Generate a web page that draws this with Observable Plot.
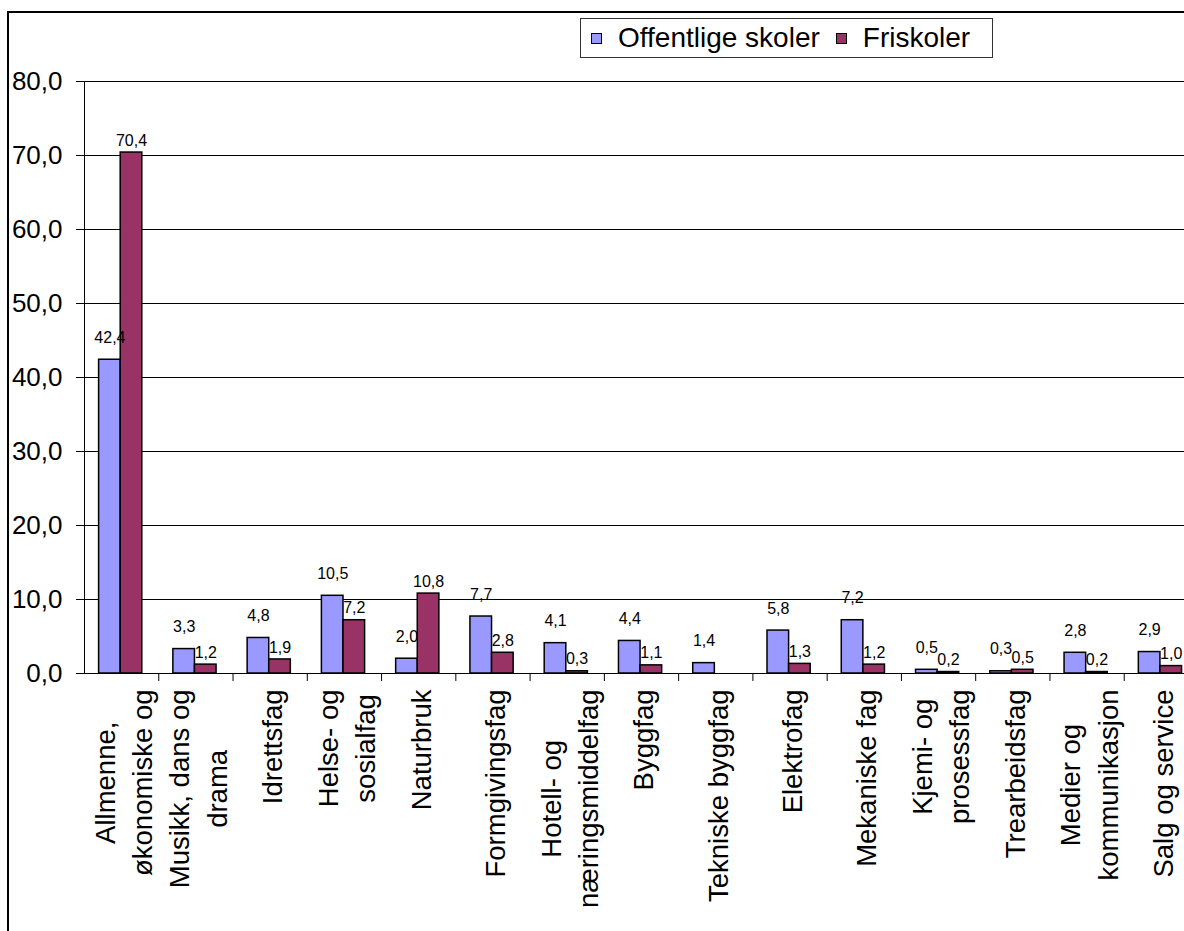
<!DOCTYPE html>
<html>
<head>
<meta charset="utf-8">
<script src="https://cdn.jsdelivr.net/npm/d3@7"></script>
<script src="https://cdn.jsdelivr.net/npm/@observablehq/plot@0.6"></script>
<style>
  html, body { margin: 0; padding: 0; background: #fff; overflow: hidden; }
  #wrap { position: relative; width: 1184px; height: 931px; overflow: hidden; background: #fff;
          font-family: "Liberation Sans", Arial, sans-serif; }
  #chart { position: absolute; left: 0; top: 0; }
  #frame { position: absolute; left: 7px; top: 11px; width: 1400px; height: 1400px;
           border: 2px solid #000; box-sizing: border-box; pointer-events: none; }
  #legend { position: absolute; left: 580px; top: 18px; width: 413px; height: 40px;
            border: 1px solid #333; box-sizing: border-box; background: #fff;
            display: flex; align-items: center; padding-left: 10px;
            font-size: 28px; color: #000; }
  #legend .sw { width: 9px; height: 9px; border: 1px solid #000; display: inline-block; margin-right: 16px; }
  #legend .item { display: flex; align-items: center; margin-right: 16px; white-space: nowrap; }
</style>
</head>
<body>
<div id="wrap">
  <div id="chart"></div>
  <div id="legend"></div>
  <div id="frame"></div>
</div>
<script>
// ---- data ----
const categories = [
  "Allmenne,\nøkonomiske og",
  "Musikk, dans og\ndrama",
  "Idrettsfag",
  "Helse- og\nsosialfag",
  "Naturbruk",
  "Formgivingsfag",
  "Hotell- og\nnæringsmiddelfag",
  "Byggfag",
  "Tekniske byggfag",
  "Elektrofag",
  "Mekaniske fag",
  "Kjemi- og\nprosessfag",
  "Trearbeidsfag",
  "Medier og\nkommunikasjon",
  "Salg og service"
];
const offentlige = [42.4, 3.3, 4.8, 10.5, 2.0, 7.7, 4.1, 4.4, 1.4, 5.8, 7.2, 0.5, 0.3, 2.8, 2.9];
const friskoler  = [70.4, 1.2, 1.9, 7.2, 10.8, 2.8, 0.3, 1.1, null, 1.3, 1.2, 0.2, 0.5, 0.2, 1.0];
const seriesNames = ["Offentlige skoler", "Friskoler"];
const seriesColors = ["#9999FF", "#993366"];
const yTicks = [0, 10, 20, 30, 40, 50, 60, 70, 80];

// ---- layout ----
const W = 1184, H = 931;
const mL = 84, mR = -14, mT = 81, mB = 258;
const bandW = (W - mL - mR) / categories.length;
const barW = 21.6;
const blueL = 14.6;
const redL = blueL + barW;
const blueDx = blueL + barW / 2 - bandW / 2;
const redDx = redL + barW / 2 - bandW / 2;
const fmt = d => d.toFixed(1).replace(".", ",");
const font = "'Liberation Sans', Arial, sans-serif";

const rowsA = categories.map((c, i) => ({category: c, value: offentlige[i]})).filter(d => d.value != null);
const rowsB = categories.map((c, i) => ({category: c, value: friskoler[i]})).filter(d => d.value != null);

const plot = Plot.plot({
  width: W, height: H,
  marginLeft: mL, marginRight: mR, marginTop: mT, marginBottom: mB,
  style: {fontFamily: font, background: "transparent", color: "#000"},
  x: {type: "band", domain: categories, padding: 0, round: false, axis: null},
  y: {domain: [0, 80], axis: null, label: null},
  marks: [
    Plot.gridY(yTicks, {stroke: "#000", strokeOpacity: 1, strokeWidth: 1}),
    Plot.frame({stroke: "#000", strokeWidth: 1}),
    Plot.axisY(yTicks, {tickSize: 8, tickPadding: 14, fontSize: 26, tickFormat: fmt, label: null, stroke: "#000"}),
    Plot.ruleX(categories.slice(1), {x: d => d, dx: -bandW / 2, y1: 0, y2: 0, insetBottom: -8, stroke: "#000"}),
    Plot.barY(rowsA, {x: "category", y: "value", fill: seriesColors[0], stroke: "#000", strokeWidth: 1.5,
      insetLeft: blueL, insetRight: bandW - blueL - barW}),
    Plot.barY(rowsB, {x: "category", y: "value", fill: seriesColors[1], stroke: "#000", strokeWidth: 1.5,
      insetLeft: redL, insetRight: bandW - redL - barW}),
    Plot.ruleY([0], {stroke: "#000", strokeWidth: 1}),
    Plot.text(rowsA, {x: "category", y: "value", text: d => fmt(d.value), dx: blueDx, dy: -22,
      fontSize: 16, fill: "#000", lineAnchor: "middle"}),
    Plot.text(rowsB, {x: "category", y: "value", text: d => fmt(d.value), dx: redDx, dy: -12,
      fontSize: 16, fill: "#000", lineAnchor: "middle"}),
    Plot.text(categories, {x: d => d, frameAnchor: "bottom", text: d => d, rotate: -90,
      textAnchor: "end", lineAnchor: "middle", dy: 16, fontSize: 27.5, lineHeight: 1.36, fill: "#000"})
  ]
});
document.getElementById("chart").appendChild(plot);

// center the lines of multi-line category labels relative to each other (as in the original)
plot.querySelectorAll("text").forEach(t => {
  const spans = Array.from(t.querySelectorAll("tspan"));
  if (spans.length > 1) {
    const lens = spans.map(s => s.getComputedTextLength());
    const L = Math.max(...lens);
    spans.forEach((s, k) => s.setAttribute("x", -(L - lens[k]) / 2));
  }
});

// legend
const legend = document.getElementById("legend");
seriesNames.forEach((name, i) => {
  const item = document.createElement("span");
  item.className = "item";
  const sw = document.createElement("span");
  sw.className = "sw";
  sw.style.background = seriesColors[i];
  item.appendChild(sw);
  item.appendChild(document.createTextNode(name));
  legend.appendChild(item);
});
</script>
</body>
</html>
